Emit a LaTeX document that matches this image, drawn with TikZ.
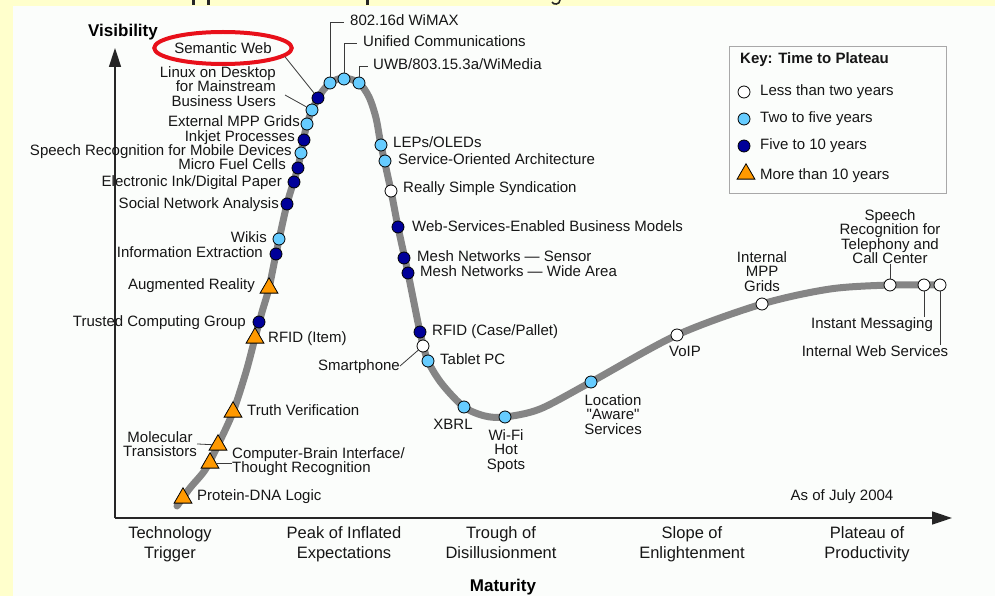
\documentclass[tikz,border=0pt]{standalone}
\usepackage{fontspec}
\setmainfont{Liberation Sans}
\usetikzlibrary{shapes.geometric,arrows.meta}

\definecolor{pagebg}{HTML}{FFFFCC}
\definecolor{panelbg}{HTML}{FBFDFB}
\definecolor{curvegray}{HTML}{858585}
\definecolor{lightdot}{HTML}{66CCFF}
\definecolor{darkdot}{HTML}{000099}
\definecolor{orangetri}{HTML}{FF9900}
\definecolor{leadergray}{HTML}{3A3A3A}
\definecolor{labeltext}{HTML}{161616}
\definecolor{keyborder}{HTML}{A8A8A8}
\definecolor{ringred}{HTML}{E8101A}

\newcommand\labfont{\fontsize{15}{14.5}\selectfont}
\newcommand\stagefont{\fontsize{16.5}{20}\selectfont}
\newcommand\axisfont{\fontsize{17}{20}\selectfont\bfseries}

\begin{document}
\begin{tikzpicture}[x=1pt,y=-1pt,
  lab/.style={inner sep=0pt, font=\labfont, text=labeltext, text height=11pt, text depth=3pt},
  labR/.style={lab, anchor=east},
  labL/.style={lab, anchor=west},
  mlab/.style={inner sep=0pt, font=\labfont, text=labeltext},
  stage/.style={inner sep=0pt, font=\stagefont, text=labeltext, align=center, anchor=north},
  axislabel/.style={inner sep=0pt, font=\axisfont, text=black},
  dotbase/.style={circle, inner sep=0pt, minimum size=12pt, draw=black, line width=0.8pt},
  lightpt/.style={dotbase, fill=lightdot},
  darkpt/.style={dotbase, fill=darkdot},
  whitept/.style={dotbase, fill=white},
  tript/.style={regular polygon, regular polygon sides=3, inner sep=0pt, minimum size=20.5pt,
                draw=black, line width=0.8pt, fill=orangetri},
  leader/.style={draw=leadergray, line width=0.8pt},
  axisline/.style={draw=black!85, line width=1.5pt},
]
% page and panel
\useasboundingbox (0,0) rectangle (995,596);
\fill[pagebg] (0,0) rectangle (995,596);
\fill[panelbg] (13,6) rectangle (995,596);
% clipped descenders of the caption line above
\fill[black!85] (192,0) rectangle (194.5,5);
\fill[black!85] (207,0) rectangle (209.5,5);
\fill[black!85] (366,0) rectangle (368.5,5);
\draw[black!85, line width=1.6pt] (560,0) .. controls (560,5) and (553,5) .. (552,2);

% axes
\coordinate (origin) at (115,518);
\coordinate (ytop) at (115,48);
\coordinate (xend) at (952,518);
\draw[axisline, -{Triangle[width=12pt,length=19pt]}] (origin) -- (ytop);
\draw[axisline, -{Triangle[width=13pt,length=20pt]}] (origin) -- (xend);
\node[axislabel] (vis) at (123,32) {Visibility};
\node[axislabel] (mat) at (503,587) {Maturity};

% phase names
\node[stage] (ph1) at (170,526) {Technology\\Trigger};
\node[stage] (ph2) at (344,526) {Peak of Inflated\\Expectations};
\node[stage] (ph3) at (501,526) {Trough of\\Disillusionment};
\node[stage] (ph4) at (692,526) {Slope of\\Enlightenment};
\node[stage] (ph5) at (867,526) {Plateau of\\Productivity};

% the hype curve
\draw[curvegray, line width=7pt, line cap=round, line join=round]
  plot[smooth, tension=0.5] coordinates {
  (177,506) (190,488) (205,470) (218,445) (233,412) (246,372) (255,338)
  (262,312) (269,288) (276,254) (287,204) (298,167) (307,124) (318,98)
  (330,83) (344,78) (359,83) (369,97) (376,118) (381,145) (391,191)
  (398,227) (408,273) (420,332) (428,361) (442,384) (464,407) (485,416)
  (505,417) (540,409) (591,382) (677,335) (762,304) (830,289) (890,285)
  (936,285)};

% technologies: markers
\node[darkpt]  (semweb)   at (318,98)  {};
\node[lightpt] (linux)    at (312,110) {};
\node[lightpt] (extmpp)   at (307,124) {};
\node[darkpt]  (inkjet)   at (304,140) {};
\node[lightpt] (srmobile) at (301,153) {};
\node[darkpt]  (fuel)     at (298,168) {};
\node[darkpt]  (eink)     at (294,182) {};
\node[darkpt]  (sna)      at (287,204) {};
\node[lightpt] (wikis)    at (279,239) {};
\node[darkpt]  (infoext)  at (276,254) {};
\node[tript]   (augreal)  at (269,288) {};
\node[darkpt]  (tcg)      at (259,322) {};
\node[tript]   (rfiditem) at (255,338) {};
\node[tript]   (truth)    at (233,412) {};
\node[tript]   (moltr)    at (218,445) {};
\node[tript]   (cbi)      at (210,463) {};
\node[tript]   (protein)  at (183,498) {};
\node[lightpt] (wimax)    at (330,83)  {};
\node[lightpt] (unified)  at (344,79)  {};
\node[lightpt] (uwb)      at (359,83)  {};
\node[lightpt] (leps)     at (381,145) {};
\node[lightpt] (soa)      at (385,161) {};
\node[whitept] (rss)      at (391,191) {};
\node[darkpt]  (wsbm)     at (398,227) {};
\node[darkpt]  (meshs)    at (404,258) {};
\node[darkpt]  (meshw)    at (408,273) {};
\node[darkpt]  (rfidcase) at (420,332) {};
\node[whitept] (smart)    at (423,346) {};
\node[lightpt] (tablet)   at (428,361) {};
\node[lightpt] (xbrl)     at (464,407) {};
\node[lightpt] (wifi)     at (505,417) {};
\node[lightpt] (lbs)      at (591,382) {};
\node[whitept] (voip)     at (677,335) {};
\node[whitept] (intmpp)   at (762,304) {};
\node[whitept] (srtel)    at (890,285) {};
\node[whitept] (im)       at (924,285) {};
\node[whitept] (iws)      at (940,285) {};

% technologies: labels on the rising side
\node[ellipse, draw=ringred, line width=4pt, minimum width=127pt, minimum height=32pt,
      inner sep=0pt, font=\labfont, text=labeltext] (semwebL) at (223,48) {Semantic Web};
\node[mlab, align=right, anchor=north east] (linuxL) at (276,66)
  {Linux on Desktop\\for Mainstream\\Business Users};
\node[labR] (extmppL)   at (300,123) {External MPP Grids};
\node[labR] (inkjetL)   at (295,138) {Inkjet Processes};
\node[labR] (srmobileL) at (292,152) {Speech Recognition for Mobile Devices};
\node[labR] (fuelL)     at (286,166) {Micro Fuel Cells};
\node[labR] (einkL)     at (282,182) {Electronic Ink/Digital Paper};
\node[labR] (snaL)      at (279,204) {Social Network Analysis};
\node[labR] (wikisL)    at (267,238) {Wikis};
\node[labR] (infoextL)  at (263,253) {Information Extraction};
\node[labR] (augrealL)  at (255,285) {Augmented Reality};
\node[labR] (tcgL)      at (246,322) {Trusted Computing Group};
\node[labL] (rfiditemL) at (268,338) {RFID (Item)};
\node[labL] (truthL)    at (247,411) {Truth Verification};
\node[mlab, align=center, anchor=north] (moltrL) at (160,431) {Molecular\\Transistors};
\node[mlab, align=left, anchor=north west] (cbiL) at (232,447)
  {Computer-Brain Interface/\\Thought Recognition};
\node[labL] (proteinL)  at (197,496) {Protein-DNA Logic};

% technologies: labels at the peak and on the falling side
\node[labL] (wimaxL)    at (350,22)  {802.16d WiMAX};
\node[labL] (unifiedL)  at (363,43)  {Unified Communications};
\node[labL] (uwbL)      at (373,66)  {UWB/803.15.3a/WiMedia};
\node[labL] (lepsL)     at (393,144) {LEPs/OLEDs};
\node[labL] (soaL)      at (398,161) {Service-Oriented Architecture};
\node[labL] (rssL)      at (403,189) {Really Simple Syndication};
\node[labL] (wsbmL)     at (412,227) {Web-Services-Enabled Business Models};
\node[labL] (meshsL)    at (417,257) {Mesh Networks — Sensor};
\node[labL] (meshwL)    at (420,272) {Mesh Networks — Wide Area};
\node[labL] (rfidcaseL) at (432,331) {RFID (Case/Pallet)};
\node[labL] (tabletL)   at (440,360) {Tablet PC};
\node[labR] (smartL)    at (400,366) {Smartphone};

% technologies: labels in the trough and on the slope
\node[lab] (xbrlL) at (453,425) {XBRL};
\node[mlab, align=center, anchor=north] (wifiL) at (506,429) {Wi-Fi\\Hot\\Spots};
\node[mlab, align=center, anchor=north] (lbsL) at (613,394)
  {Location\\\textquotedbl Aware\textquotedbl\\Services};
\node[lab] (voipL) at (685,352) {VoIP};
\node[mlab, align=center, anchor=north] (intmppL) at (762,251) {Internal\\MPP\\Grids};
\node[mlab, align=center, anchor=north] (srtelL) at (890,209)
  {Speech\\Recognition for\\Telephony and\\Call Center};
\node[lab] (imL)  at (872,324) {Instant Messaging};
\node[lab] (iwsL) at (875,352) {Internal Web Services};
\node[lab] (asof) at (842,496) {As of July 2004};

% leader lines
\coordinate (linuxtail) at (285,95);
\draw[leader] (semwebL.-8) -- (semweb);
\draw[leader] (linuxtail) -- (linux);
\draw[leader] (wimax) |- ([xshift=-6pt]wimaxL.west);
\draw[leader] (unified) |- ([xshift=-6pt]unifiedL.west);
\draw[leader] (uwb) |- ([xshift=-5pt]uwbL.west);
\draw[leader] (smartL.east) -- (smart);
\draw[leader] (moltrL.east) -- (moltr);
\draw[leader] (cbi) -- (cbi -| cbiL.west);
\draw[leader] (srtelL.south) -- (srtel);
\draw[leader] (im) -- (im |- imL.north);
\draw[leader] (iws) -- (iws |- iwsL.north);

% key
\node[draw=keyborder, line width=0.9pt, minimum width=217pt, minimum height=147pt,
      inner sep=0pt, anchor=north west] (keybox) at (729,46) {};
\node[lab, font=\labfont\bfseries, anchor=west] (keytitle) at (740,60) {Key: Time to Plateau};
\node[whitept] (keyw) at (744,92)  {};
\node[lightpt] (keyl) at (744,119) {};
\node[darkpt]  (keyd) at (744,146) {};
\node[tript]   (keyt) at (746,174) {};
\node[labL] (keywL) at (760,92)  {Less than two years};
\node[labL] (keylL) at (760,119) {Two to five years};
\node[labL] (keydL) at (760,146) {Five to 10 years};
\node[labL] (keytL) at (760,175) {More than 10 years};
\end{tikzpicture}
\end{document}
